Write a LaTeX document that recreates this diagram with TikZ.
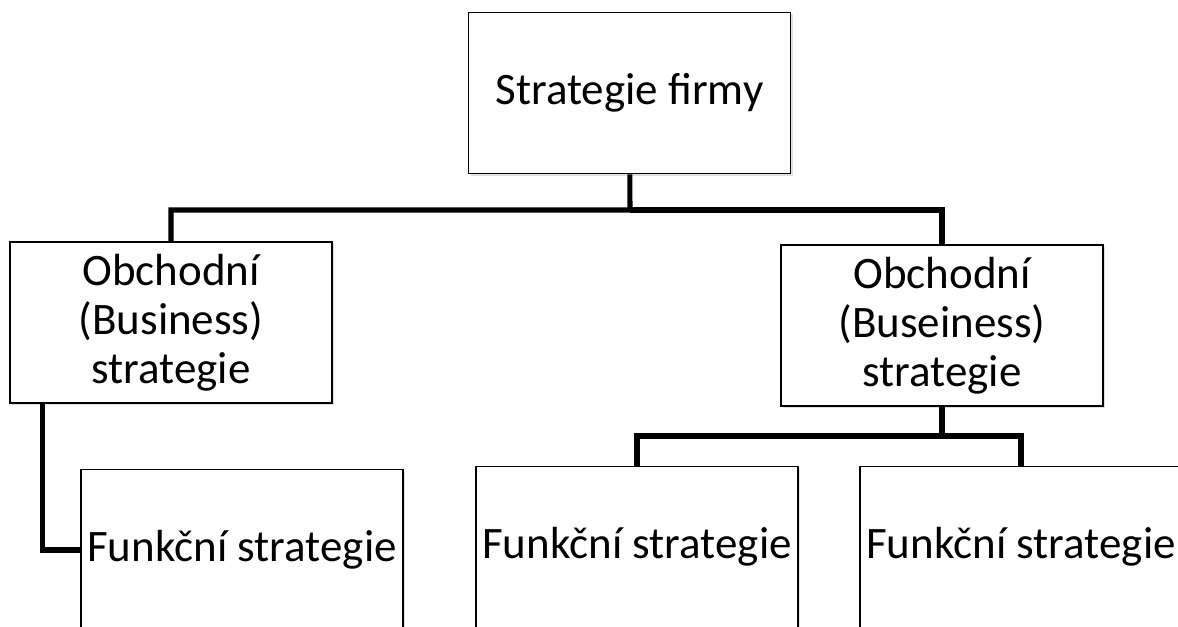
\documentclass[tikz,border=0pt]{standalone}
\usepackage{fontspec}
\setmainfont{Carlito}
\usepackage{tikz}
\usetikzlibrary{shadows}

\begin{document}
\begin{tikzpicture}[x=0.025cm,y=-0.025cm]
	\useasboundingbox (0,0) rectangle (1178,626);
	\clip (0,0) rectangle (1178,626);
	\begin{scope}[every node/.style={draw,line width=1.2pt,fill=white,align=center,
			minimum width=8.05cm,minimum height=4.03cm,inner sep=1pt,
			drop shadow={shadow xshift=1.5pt,shadow yshift=-1.5pt,opacity=0.25},
			font=\fontsize{32}{35}\selectfont}]
		\node (firm) at (629.5,93) {Strategie firmy};
		\node (b1) at (171,322.5) {Obchodní\\(Business)\\strategie};
		\node (b2) at (942,325.5) {Obchodní\\(Buseiness)\\strategie};
		\node (f1) at (242,550) {Funkční strategie};
		\node (f2) at (637,547) {Funkční strategie};
		\node (f3) at (1021,547) {Funkční strategie};
	\end{scope}
	\coordinate (j1) at (630,210);
	\coordinate (j2) at (942,436);
	\begin{scope}[line width=3.6pt]
		\draw (firm) -- (j1) -| (b1);
		\draw (j1) -| (b2);
		\draw ([xshift=0.825cm]b1.south west) |- (f1.west);
		\draw (b2) -- (j2) -| (f2);
		\draw (j2) -| (f3);
	\end{scope}
\end{tikzpicture}
\end{document}
